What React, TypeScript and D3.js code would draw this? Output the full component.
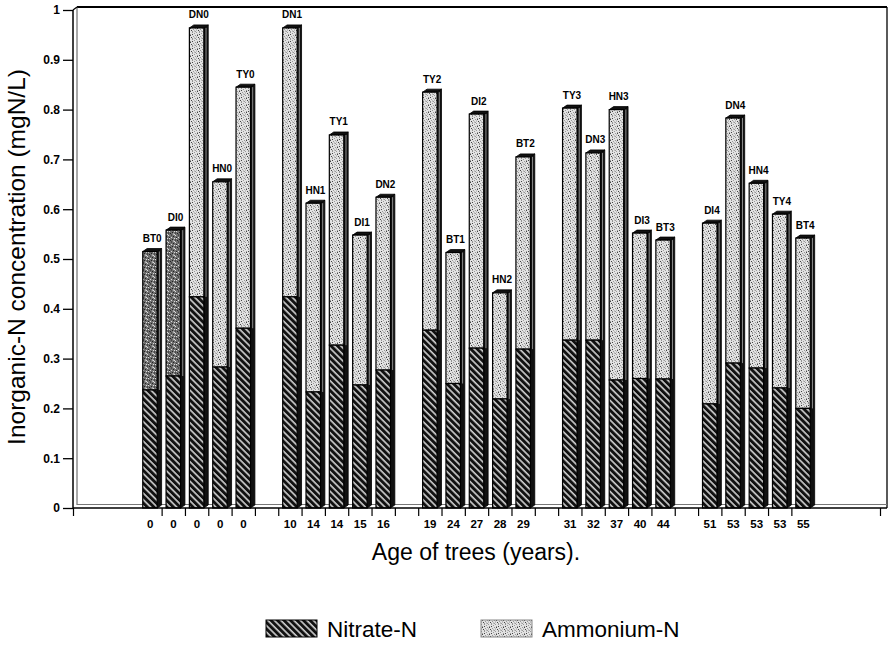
import React, { useEffect, useRef } from "react";
import * as d3 from "d3";

// bar names, printed above each bar
const barLabels = [
  "BT0", "DI0", "DN0", "HN0", "TY0",
  "DN1", "HN1", "TY1", "DI1", "DN2",
  "TY2", "BT1", "DI2", "HN2", "BT2",
  "TY3", "DN3", "HN3", "DI3", "BT3",
  "DI4", "DN4", "HN4", "TY4", "BT4",
];

// age of trees (years), x tick labels
const ageLabels = [
  "0", "0", "0", "0", "0",
  "10", "14", "14", "15", "16",
  "19", "24", "27", "28", "29",
  "31", "32", "37", "40", "44",
  "51", "53", "53", "53", "55",
];

// mgN/L
const nitrateN = [
  0.237, 0.265, 0.424, 0.283, 0.361,
  0.424, 0.233, 0.327, 0.247, 0.277,
  0.357, 0.25, 0.321, 0.219, 0.319,
  0.337, 0.337, 0.257, 0.26, 0.259,
  0.209, 0.291, 0.281, 0.241, 0.2,
];
const ammoniumN = [
  0.278, 0.293, 0.54, 0.372, 0.484,
  0.54, 0.379, 0.422, 0.301, 0.347,
  0.478, 0.263, 0.47, 0.213, 0.386,
  0.466, 0.376, 0.543, 0.292, 0.279,
  0.363, 0.492, 0.371, 0.349, 0.342,
];

const yTicks = [0, 0.1, 0.2, 0.3, 0.4, 0.5, 0.6, 0.7, 0.8, 0.9, 1];
const legendItems = ["Nitrate-N", "Ammonium-N"];

const FONT = "'Liberation Sans', Arial, Helvetica, sans-serif";
const GROUP = 5; // bars per group, one empty slot between groups

// the first two bars came out darker in the scan
const darkScan = new Set(["BT0", "DI0"]);

const stippleDots = [
  [1, 0], [4, 1], [6, 3], [2, 2], [0, 4], [5, 5], [3, 6], [1, 6], [6, 0], [3, 3.5], [5, 2.5], [0, 1.5],
];

export default function App() {
  const axisLeftRef = useRef<SVGGElement>(null);
  const axisBottomRef = useRef<SVGGElement>(null);
  const tickRef = useRef<SVGGElement>(null);

  const width = 890;
  const height = 648;
  const x0 = 73, x1 = 880;
  const y0 = 508, y1 = 10;

  const nSlots = barLabels.length + Math.floor((barLabels.length - 1) / GROUP);
  const slotOf = (i: number) => i + Math.floor(i / GROUP);

  const x = d3.scaleBand<number>()
    .domain(d3.range(nSlots))
    .range([x0, x1])
    .paddingInner(0)
    .paddingOuter(2.8);
  const step = x.step();
  const xb = d3.scaleLinear()
    .domain([-2.8, nSlots + 2.8])
    .range([x0, x1]);

  const y = d3.scaleLinear().domain([0, 1]).range([y0, y1]);

  const depth = 4.4, rise = 3;
  const frontL = step * 0.19, frontW = step * 0.62;

  useEffect(() => {
    // y axis
    const gl = d3.select(axisLeftRef.current);
    gl.selectAll("*").remove();
    gl.call(
      d3.axisLeft(y).tickValues(yTicks).tickFormat(d3.format("~g") as any)
        .tickSize(10).tickPadding(3)
    );
    gl.select(".domain").remove();
    gl.selectAll(".tick line").attr("stroke", "#000").attr("stroke-width", 1.3);
    gl.selectAll(".tick text")
      .attr("font-family", FONT).attr("font-size", 12).attr("font-weight", "bold")
      .attr("fill", "#000");

    // x tick labels (age)
    const gb = d3.select(axisBottomRef.current);
    gb.selectAll("*").remove();
    gb.call(
      d3.axisBottom(xb)
        .tickValues(barLabels.map((_, i) => slotOf(i) + 0.49))
        .tickFormat((_d, i) => ageLabels[i])
        .tickSize(0).tickPadding(12)
    );
    gb.select(".domain").remove();
    gb.selectAll(".tick text")
      .attr("font-family", FONT).attr("font-size", 11.5).attr("font-weight", "bold")
      .attr("fill", "#000");

    // x tick marks on slot boundaries plus both ends
    const gt = d3.select(tickRef.current);
    gt.selectAll("*").remove();
    const dom = xb.domain();
    gt.call(
      d3.axisBottom(xb)
        .tickValues([dom[0], ...d3.range(1, nSlots), dom[1]])
        .tickFormat(() => "")
        .tickSize(8).tickSizeOuter(0)
    );
    gt.select(".domain").remove();
    gt.selectAll(".tick line").attr("stroke", "#000").attr("stroke-width", 1.2);
  }, []);

  return (
    <svg width={width} height={height} style={{ position: "absolute", left: 0, top: 0, background: "#fff" }}>
      <defs>
        <pattern id="nit" width="4.6" height="4.6" patternUnits="userSpaceOnUse" patternTransform="rotate(-45)">
          <rect width="4.6" height="4.6" fill="#111" />
          <line x1="1" y1="0" x2="1" y2="4.6" stroke="#fff" strokeWidth="1.3" />
        </pattern>
        <pattern id="amm" width="7" height="7" patternUnits="userSpaceOnUse">
          <rect width="7" height="7" fill="#e2e2e2" />
          {stippleDots.map((p, i) => (
            <rect key={i} x={p[0]} y={p[1]} width="1" height="1" fill={i % 3 === 0 ? "#444" : "#999"} />
          ))}
        </pattern>
        <pattern id="ammDark" width="7" height="7" patternUnits="userSpaceOnUse">
          <rect width="7" height="7" fill="#707070" />
          {stippleDots.map((p, i) => (
            <rect key={i} x={p[0]} y={p[1]} width="1" height="1" fill={i % 2 === 0 ? "#ddd" : "#222"} />
          ))}
        </pattern>
      </defs>

      {/* back wall and floor */}
      <line x1={x0 + 4} y1={y1 - 3} x2={887} y2={y1 - 3} stroke="#000" strokeWidth={2} />
      <line x1={887} y1={y1 - 3} x2={887} y2={y0} stroke="#000" strokeWidth={1.3} />
      <line x1={x0 + 4} y1={y1 - 3} x2={x0 + 4} y2={y0 - 3} stroke="#555" strokeWidth={1} />
      <line x1={x0 + 4} y1={y0 - 3.5} x2={887} y2={y0 - 3.5} stroke="#777" strokeWidth={1.2} />
      <line x1={x0} y1={y1} x2={x0 + 4} y2={y1 - 3} stroke="#000" strokeWidth={1.2} />

      {/* bars */}
      {barLabels.map((name, i) => {
        const bx = (x(slotOf(i)) as number) + frontL;
        const yn = y(nitrateN[i]);
        const yt = y(nitrateN[i] + ammoniumN[i]);
        const bx2 = bx + frontW;
        return (
          <g key={name}>
            <polygon
              points={`${bx2},${yt} ${bx2 + depth},${yt - rise} ${bx2 + depth},${y0 - rise} ${bx2},${y0}`}
              fill="#111" stroke="#000" strokeWidth={0.8}
            />
            <line x1={bx2 + depth / 2} y1={yt} x2={bx2 + depth / 2} y2={yn} stroke="#aaa" strokeWidth={0.8} />
            <polygon
              points={`${bx},${yt} ${bx + depth},${yt - rise} ${bx2 + depth},${yt - rise} ${bx2},${yt}`}
              fill="#111" stroke="#000" strokeWidth={0.8}
            />
            <rect x={bx} y={yt} width={frontW} height={yn - yt}
              fill={darkScan.has(name) ? "url(#ammDark)" : "url(#amm)"} stroke="#000" strokeWidth={1.2} />
            <rect x={bx} y={yn} width={frontW} height={y0 - yn}
              fill="url(#nit)" stroke="#000" strokeWidth={1.2} />
            <text x={bx + (frontW + depth) / 2} y={yt - 9.5} textAnchor="middle"
              fontFamily={FONT} fontSize={10} fontWeight="bold">{name}</text>
          </g>
        );
      })}

      {/* front axes */}
      <line x1={x0} y1={y1} x2={x0} y2={y0} stroke="#000" strokeWidth={1.5} />
      <line x1={x0} y1={y0} x2={887} y2={y0} stroke="#000" strokeWidth={1.5} />

      <g ref={axisLeftRef} transform={`translate(${x0},0)`} />
      <g ref={tickRef} transform={`translate(0,${y0})`} />
      <g ref={axisBottomRef} transform={`translate(0,${y0})`} />

      <text x={476} y={560} textAnchor="middle" fontFamily={FONT} fontSize={23}>
        Age of trees (years).
      </text>
      <text transform={`translate(25,257) rotate(-90)`} textAnchor="middle" fontFamily={FONT} fontSize={24.5}>
        Inorganic-N concentration (mgN/L)
      </text>

      {/* legend */}
      {legendItems.map((label, i) => {
        const lx = i === 0 ? 266 : 481;
        return (
          <g key={label} transform={`translate(${lx},620)`}>
            <rect width={51} height={17} fill={i === 0 ? "url(#nit)" : "url(#amm)"}
              stroke={i === 0 ? "#000" : "#888"} strokeWidth={1} />
            <text x={61} y={17} fontFamily={FONT} fontSize={22.5}>{label}</text>
          </g>
        );
      })}
    </svg>
  );
}
